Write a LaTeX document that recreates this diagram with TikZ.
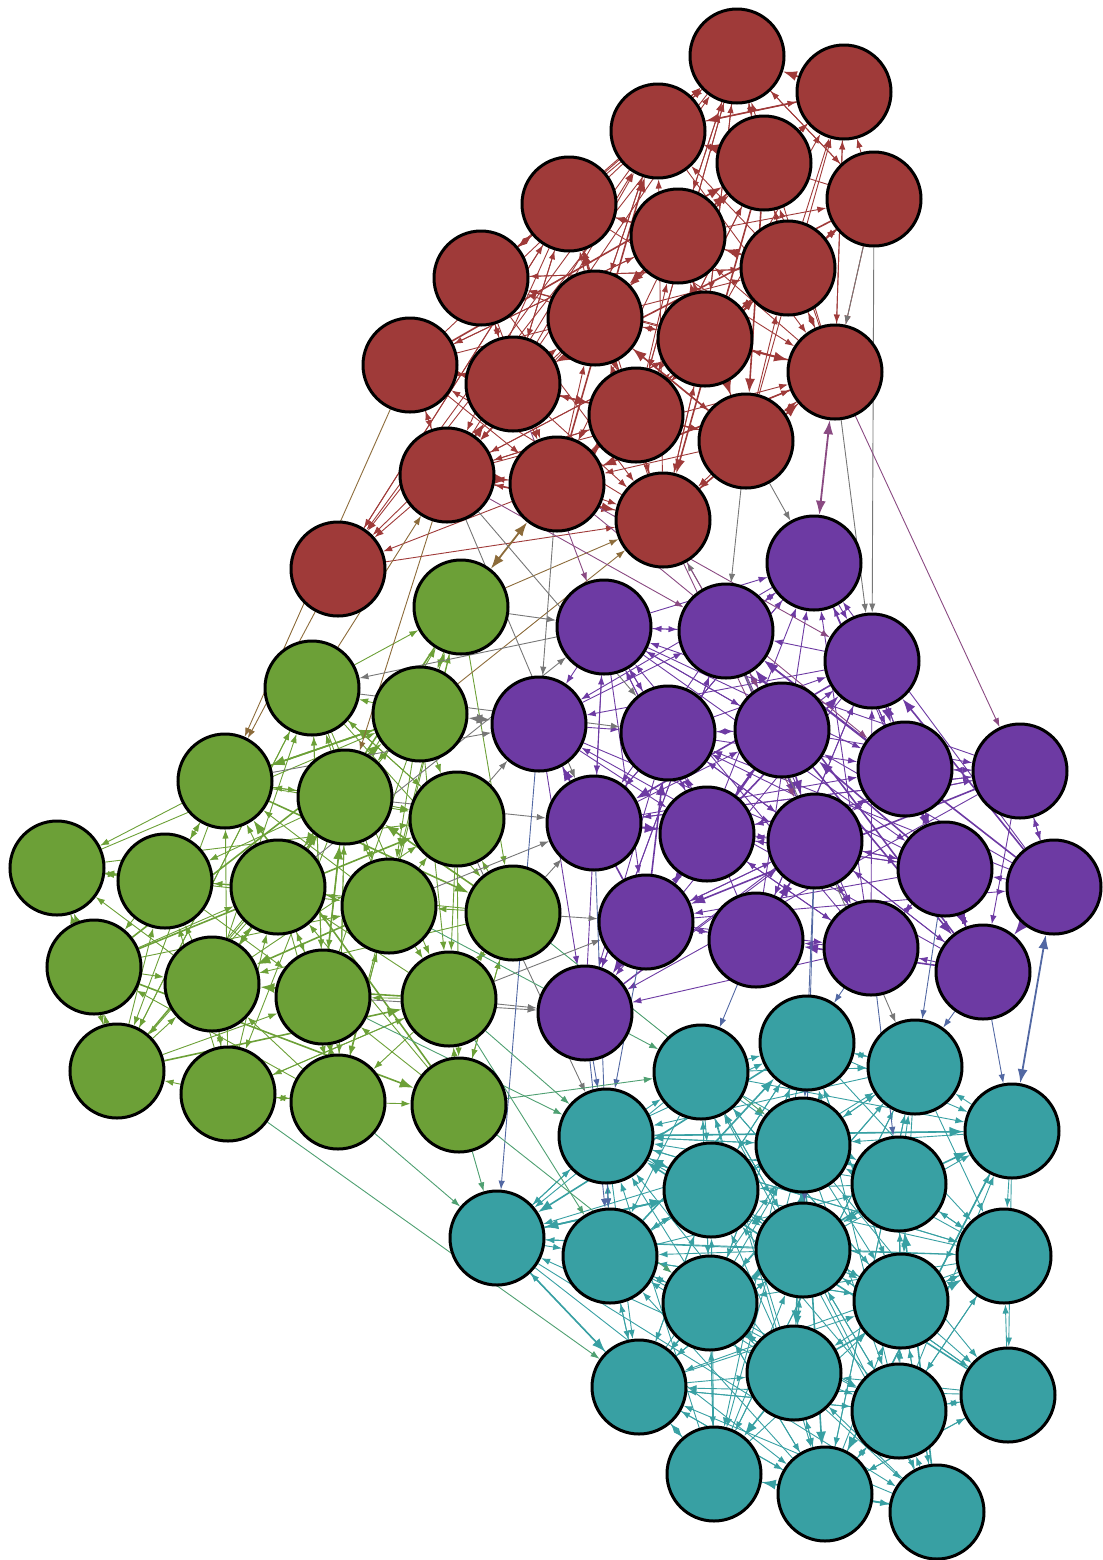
\documentclass[tikz,border=0pt]{standalone}
\usetikzlibrary{arrows.meta}
\definecolor{cred}{HTML}{9F3A39}
\definecolor{cgreen}{HTML}{6CA037}
\definecolor{cpurple}{HTML}{6D3AA3}
\definecolor{cteal}{HTML}{38A0A3}
\definecolor{ebrown}{HTML}{8C6B3A}
\definecolor{egray}{HTML}{777777}
\definecolor{emauve}{HTML}{8A4A82}
\definecolor{eblue}{HTML}{5268A3}
\definecolor{egt}{HTML}{4FA072}
\pgfdeclarelayer{edges}
\pgfsetlayers{edges,main}
\def\RX{{737,844,658,764,874,569,678,788,481,595,705,410,513,835,636,746,447,557,663,338}}
\def\RY{{56,92,131,163,199,204,236,268,278,318,339,365,384,372,415,441,475,484,520,569}}
\def\GX{{461,312,420,225,345,457,57,165,278,389,513,94,212,323,449,117,228,338,459}}
\def\GY{{607,688,714,781,797,819,868,881,887,906,913,967,984,997,999,1071,1094,1102,1105}}
\def\PX{{814,604,726,872,539,668,782,905,1020,594,707,815,945,1054,646,756,871,983,585}}
\def\PY{{563,627,631,661,724,733,730,769,771,823,834,841,869,887,922,940,948,972,1013}}
\def\TX{{807,701,915,1012,606,803,899,711,497,610,803,1004,710,901,639,794,899,1008,714,825,937}}
\def\TY{{1043,1072,1067,1131,1136,1145,1184,1190,1238,1256,1250,1256,1303,1301,1387,1373,1411,1395,1474,1494,1512}}
\newcommand\placecluster[5]{%
  \foreach \i in {1,...,#2}{%
    \pgfmathsetmacro\nodex{#3[\i-1]}%
    \pgfmathsetmacro\nodey{#4[\i-1]}%
    \node[vertex,fill=#5] (#1\i) at (\nodex,\nodey) {};
  }}
\newcommand\linkcluster[6]{%
  \foreach \i in {1,...,#2}{\foreach \j in {1,...,#2}{%
    \ifnum\i=\j\relax\else
      \pgfmathsetmacro\edgedist{veclen(#3[\i-1]-#3[\j-1],#4[\i-1]-#4[\j-1])}%
      \pgfmathtruncatemacro\edgeok{rnd<#6*exp(-\edgedist/300)}%
      \ifnum\edgeok=1
        \pgfmathtruncatemacro\edgebig{rnd<0.12}%
        \ifnum\edgebig=1 \draw[linkbig,#5] (#1\i) -- (#1\j);
        \else \draw[link,#5] (#1\i) -- (#1\j);\fi
      \fi
    \fi}}}
\begin{document}
\begin{tikzpicture}[x=0.5pt,y=-0.5pt,
  vertex/.style={circle,draw=black,line width=1.5pt,minimum size=47pt,inner sep=0pt},
  link/.style={line width=0.45pt,-{Latex[length=4.5pt,width=3.2pt]}},
  linkbig/.style={line width=0.8pt,-{Latex[length=7pt,width=5pt]}},
  xlink/.style={line width=0.45pt,-{Latex[length=4.5pt,width=3.2pt]}},
  blink/.style={line width=0.9pt,{Latex[length=7pt,width=5pt]}-{Latex[length=7pt,width=5pt]}}]
\useasboundingbox (0,0) rectangle (1103,1560);
\placecluster{r}{20}{\RX}{\RY}{cred}
\placecluster{g}{19}{\GX}{\GY}{cgreen}
\placecluster{p}{19}{\PX}{\PY}{cpurple}
\placecluster{t}{21}{\TX}{\TY}{cteal}
\begin{pgfonlayer}{edges}
\pgfmathsetseed{4711}
\linkcluster{r}{20}{\RX}{\RY}{cred}{1.0}
\linkcluster{g}{19}{\GX}{\GY}{cgreen}{0.85}
\linkcluster{p}{19}{\PX}{\PY}{cpurple}{0.9}
\linkcluster{t}{21}{\TX}{\TY}{cteal}{1.05}
% red - green
\draw[blink,ebrown] (g1) -- (r18);
\foreach \a/\b in {r12/g4,r17/g5,g1/r19,g3/r19,r20/g4,g2/r17}
  \draw[xlink,ebrown] (\a) -- (\b);
% gray
\draw[blink,egray] (g3) -- (p5);
\foreach \a/\b in {p3/r19,g6/p5,g1/p2,p2/g2,g11/p15,p3/t3,r17/p6,r18/p5,r17/p10,r16/p1,r14/p4,r5/p4,g5/p10,g10/p10,g14/p19,g15/p19,g6/t5,g2/p6,g4/p5,g9/p2,g11/p10,r16/p3,g15/p15,r5/r14}
  \draw[xlink,egray] (\a) -- (\b);
% red - purple
\draw[blink,emauve] (r14) -- (p1);
\foreach \a/\b in {r14/p9,r18/p4,r19/p7,r17/p3,r13/p2,r18/p8,r19/p12}
  \draw[xlink,emauve] (\a) -- (\b);
% purple - teal
\draw[blink,eblue] (p14) -- (t4);
\foreach \a/\b in {p18/t4,p17/t1,p16/t2,p19/t5,p15/t5,p12/t6,p10/t10,p13/t3,p5/t9,p12/t11,p19/t10,p17/t7,p18/t3}
  \draw[xlink,eblue] (\a) -- (\b);
% green - teal
\foreach \a/\b in {g19/t9,g19/t2,g15/t10,g17/t15,g18/t9,g14/t5,g10/t2,g11/t6,g15/t5,g19/t13}
  \draw[xlink,egt] (\a) -- (\b);
\end{pgfonlayer}
\end{tikzpicture}
\end{document}
